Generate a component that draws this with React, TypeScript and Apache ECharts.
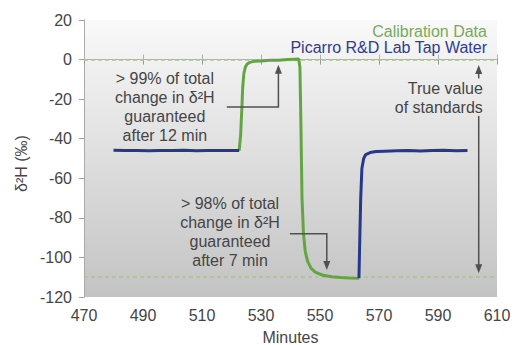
import React, { useEffect, useRef } from "react";
import * as echarts from "echarts";

// ---- data (minutes, δ2H ‰) ----
const X_BASE = 470;
const xTickLabels = ["470", "490", "510", "530", "550", "570", "590", "610"];
const yTickLabels = ["-120", "-100", "-80", "-60", "-40", "-20", "0", "20"];

const tapWaterBeforeMin = [480, 484, 488, 492, 496, 500, 504, 508, 512, 516, 520, 522.6];
const tapWaterBeforeVal = [-45.8, -46.0, -45.9, -46.1, -45.9, -46.0, -45.8, -46.1, -45.9, -46.0, -45.9, -46.0];

const calibrationMin = [522.6, 523.1, 523.5, 523.8, 524.2, 524.7, 525.3, 526.2, 527.5, 530, 533, 536, 539, 541.5, 542.8, 543.2, 543.5, 543.9, 544.4, 545.0, 545.8, 547.0, 548.5, 551, 554, 557, 560, 563.2];
const calibrationVal = [-46, -38, -25, -14, -7, -3.8, -2.2, -1.4, -0.9, -0.7, -0.4, -0.3, 0, 0.2, 0.3, -4, -30, -70, -88, -97, -102, -105.5, -107.5, -109, -109.8, -110.2, -110.4, -110.5];

const tapWaterAfterMin = [563.2, 563.5, 563.8, 564.2, 564.8, 565.5, 567, 569, 572, 576, 580, 584, 588, 592, 596, 600];
const tapWaterAfterVal = [-110.5, -90, -70, -55, -50, -48, -47, -46.5, -46.3, -46.1, -45.9, -46.2, -46.0, -45.8, -46.1, -46.0];

const trueValues = [0, -110];

const legendLabels = ["Calibration Data", "Picarro R&D Lab Tap Water"];
const note12Text = "> 99% of total\nchange in δ²H\nguaranteed\nafter 12 min";
const note7Text = "> 98% of total\nchange in δ²H\nguaranteed\nafter 7 min";
const trueText = "True value\nof standards";

const FONT = "'Liberation Sans', Arial, Helvetica, sans-serif";
const TEXT = "#454545";
const GREEN = "#64a444";
const BLUE = "#26388b";

function pairs(xs: number[], ys: number[]) {
  return xs.map((x, i) => [x - X_BASE, ys[i]]);
}

export default function App() {
  const ref = useRef<HTMLDivElement>(null);
  useEffect(() => {
    const chart = echarts.init(ref.current!, null, { renderer: "svg" });
    const axisCommon = { min: 0, max: 140, interval: 20 };
    chart.setOption({
      animation: false,
      grid: {
        left: 84,
        right: 30,
        top: 20,
        bottom: 48,
        show: true,
        borderWidth: 0,
        containLabel: false,
        outerBoundsMode: "none",
        backgroundColor: new echarts.graphic.LinearGradient(0, 0, 0, 1, [
          { offset: 0, color: "#f9f9f9" },
          { offset: 1, color: "#c3c3c3" },
        ]),
      },
      xAxis: [
        {
          type: "value",
          ...axisCommon,
          position: "bottom",
          name: "Minutes",
          nameLocation: "middle",
          nameGap: 32,
          nameTextStyle: { color: TEXT, fontSize: 16, fontFamily: FONT },
          axisLine: { lineStyle: { color: "#9a9a9a", width: 1 } },
          axisTick: { show: true, length: 5, lineStyle: { color: "#9a9a9a" } },
          axisLabel: {
            color: TEXT,
            fontSize: 16,
            fontFamily: FONT,
            margin: 10,
            formatter: (_v: number, i: number) => xTickLabels[i] ?? "",
          },
          splitLine: { show: false },
        },
        {
          type: "value",
          ...axisCommon,
          position: "top",
          axisLine: { lineStyle: { color: "#b0b0b0", width: 1 } },
          axisTick: { show: true, length: 5, lineStyle: { color: "#b0b0b0" } },
          axisLabel: { show: false },
          splitLine: { show: false },
        },
      ],
      yAxis: [
        {
          type: "value",
          min: -120,
          max: 20,
          interval: 20,
          position: "left",
          name: "δ²H (‰)",
          nameLocation: "middle",
          nameGap: 33,
          nameRotate: 90,
          nameTextStyle: { color: TEXT, fontSize: 16, fontFamily: FONT, padding: [0, 10, 0, 0] },
          axisLine: { show: true, lineStyle: { color: "#b0b0b0", width: 1 } },
          axisTick: { show: true, length: 5, lineStyle: { color: "#a0a0a0" } },
          axisLabel: {
            color: TEXT,
            fontSize: 16,
            fontFamily: FONT,
            margin: 12,
            formatter: (_v: number, i: number) => yTickLabels[i] ?? "",
          },
          splitLine: { show: false },
        },
        {
          type: "value",
          min: -120,
          max: 20,
          interval: 20,
          position: "right",
          axisLine: { show: true, lineStyle: { color: "#aaaaaa", width: 1 } },
          axisTick: { show: false },
          axisLabel: { show: false },
          splitLine: { show: false },
        },
      ],
      series: [
        {
          name: legendLabels[0],
          type: "line",
          data: pairs(calibrationMin, calibrationVal),
          showSymbol: false,
          symbol: "none",
          lineStyle: { color: GREEN, width: 3 },
          z: 3,
          markLine: {
            silent: true,
            symbol: ["none", "none"],
            label: { show: false },
            lineStyle: { color: "#a9c68b", type: [4, 3], width: 1.5 },
            data: trueValues.map((v) => ({ yAxis: v })),
            z: 1,
          },
        },
        {
          name: legendLabels[1],
          type: "line",
          data: pairs(tapWaterBeforeMin, tapWaterBeforeVal),
          showSymbol: false,
          symbol: "none",
          lineStyle: { color: BLUE, width: 3 },
          z: 4,
        },
        {
          name: legendLabels[1] + " ",
          type: "line",
          data: pairs(tapWaterAfterMin, tapWaterAfterVal),
          showSymbol: false,
          symbol: "none",
          lineStyle: { color: BLUE, width: 3 },
          z: 4,
        },
      ],
    });

    const px = (x: number, y: number) =>
      chart.convertToPixel({ xAxisIndex: 0, yAxisIndex: 0 }, [x - X_BASE, y]) as number[];

    const LINE = "#505050";
    const arrowHead = (tip: number[], dir: number) => ({
      type: "polygon",
      shape: {
        points: [
          [tip[0], tip[1]],
          [tip[0] - 3.5, tip[1] + dir * 9],
          [tip[0] + 3.5, tip[1] + dir * 9],
        ],
      },
      style: { fill: LINE },
      z: 100,
    });
    const txt = (p: number[], text: string, align: string, fill = TEXT, lh = 19, rich?: any) => ({
      type: "text",
      x: p[0],
      y: p[1],
      z: 100,
      style: {
        text,
        fill,
        font: `16px ${FONT}`,
        align,
        textAlign: align,
        verticalAlign: "middle",
        textVerticalAlign: "middle",
        lineHeight: lh,
        rich,
      },
    });

    // connector 1 (>99%)
    const c1a = px(518.4, -24);
    const c1b = px(535.9, -24);
    const c1tip = px(535.9, -2.6);
    // connector 2 (>98%)
    const c2a = px(539.8, -88);
    const c2b = px(552.3, -88);
    const c2tip = px(552.3, -106.3);
    // true value arrows
    const tvUpTip = px(603.8, -2.8);
    const tvUpEnd = px(603.8, -9.5);
    const tvDnStart = px(603.8, -28.5);
    const tvDnTip = px(603.8, -108);

    const legendRich = {
      g: { fill: "#79a95b", font: `16px ${FONT}`, lineHeight: 15.6, align: "right" },
      b: { fill: "#2f3c91", font: `16px ${FONT}`, lineHeight: 15.6, align: "right" },
    };

    const graphic: any[] = [
      {
        type: "polyline",
        shape: { points: [c1a, c1b, [c1tip[0], c1tip[1] + 8]] },
        style: { stroke: LINE, lineWidth: 1.5, fill: "none" },
        z: 100,
      },
      arrowHead(c1tip, 1),
      {
        type: "polyline",
        shape: { points: [c2a, c2b, [c2tip[0], c2tip[1] - 8]] },
        style: { stroke: LINE, lineWidth: 1.5, fill: "none" },
        z: 100,
      },
      arrowHead(c2tip, -1),
      {
        type: "line",
        shape: { x1: tvUpTip[0], y1: tvUpTip[1] + 8, x2: tvUpEnd[0], y2: tvUpEnd[1] },
        style: { stroke: LINE, lineWidth: 1.5 },
        z: 100,
      },
      arrowHead(tvUpTip, 1),
      {
        type: "line",
        shape: { x1: tvDnStart[0], y1: tvDnStart[1], x2: tvDnTip[0], y2: tvDnTip[1] - 8 },
        style: { stroke: LINE, lineWidth: 1.5 },
        z: 100,
      },
      arrowHead(tvDnTip, -1),
      txt(px(497.4, -23.8), note12Text, "center"),
      txt(px(519.5, -87.4), note7Text, "center"),
      txt(px(605.2, -19.3), trueText, "right"),
      txt(
        px(606.6, 10.05),
        `{g|${legendLabels[0]}}\n{b|${legendLabels[1]}}`,
        "right",
        TEXT,
        15.6,
        legendRich
      ),
    ];
    chart.setOption({ graphic });

    return () => chart.dispose();
  }, []);
  return (
    <div
      ref={ref}
      style={{ position: "fixed", left: 0, top: 0, width: 527, height: 345, background: "#fff" }}
    />
  );
}
